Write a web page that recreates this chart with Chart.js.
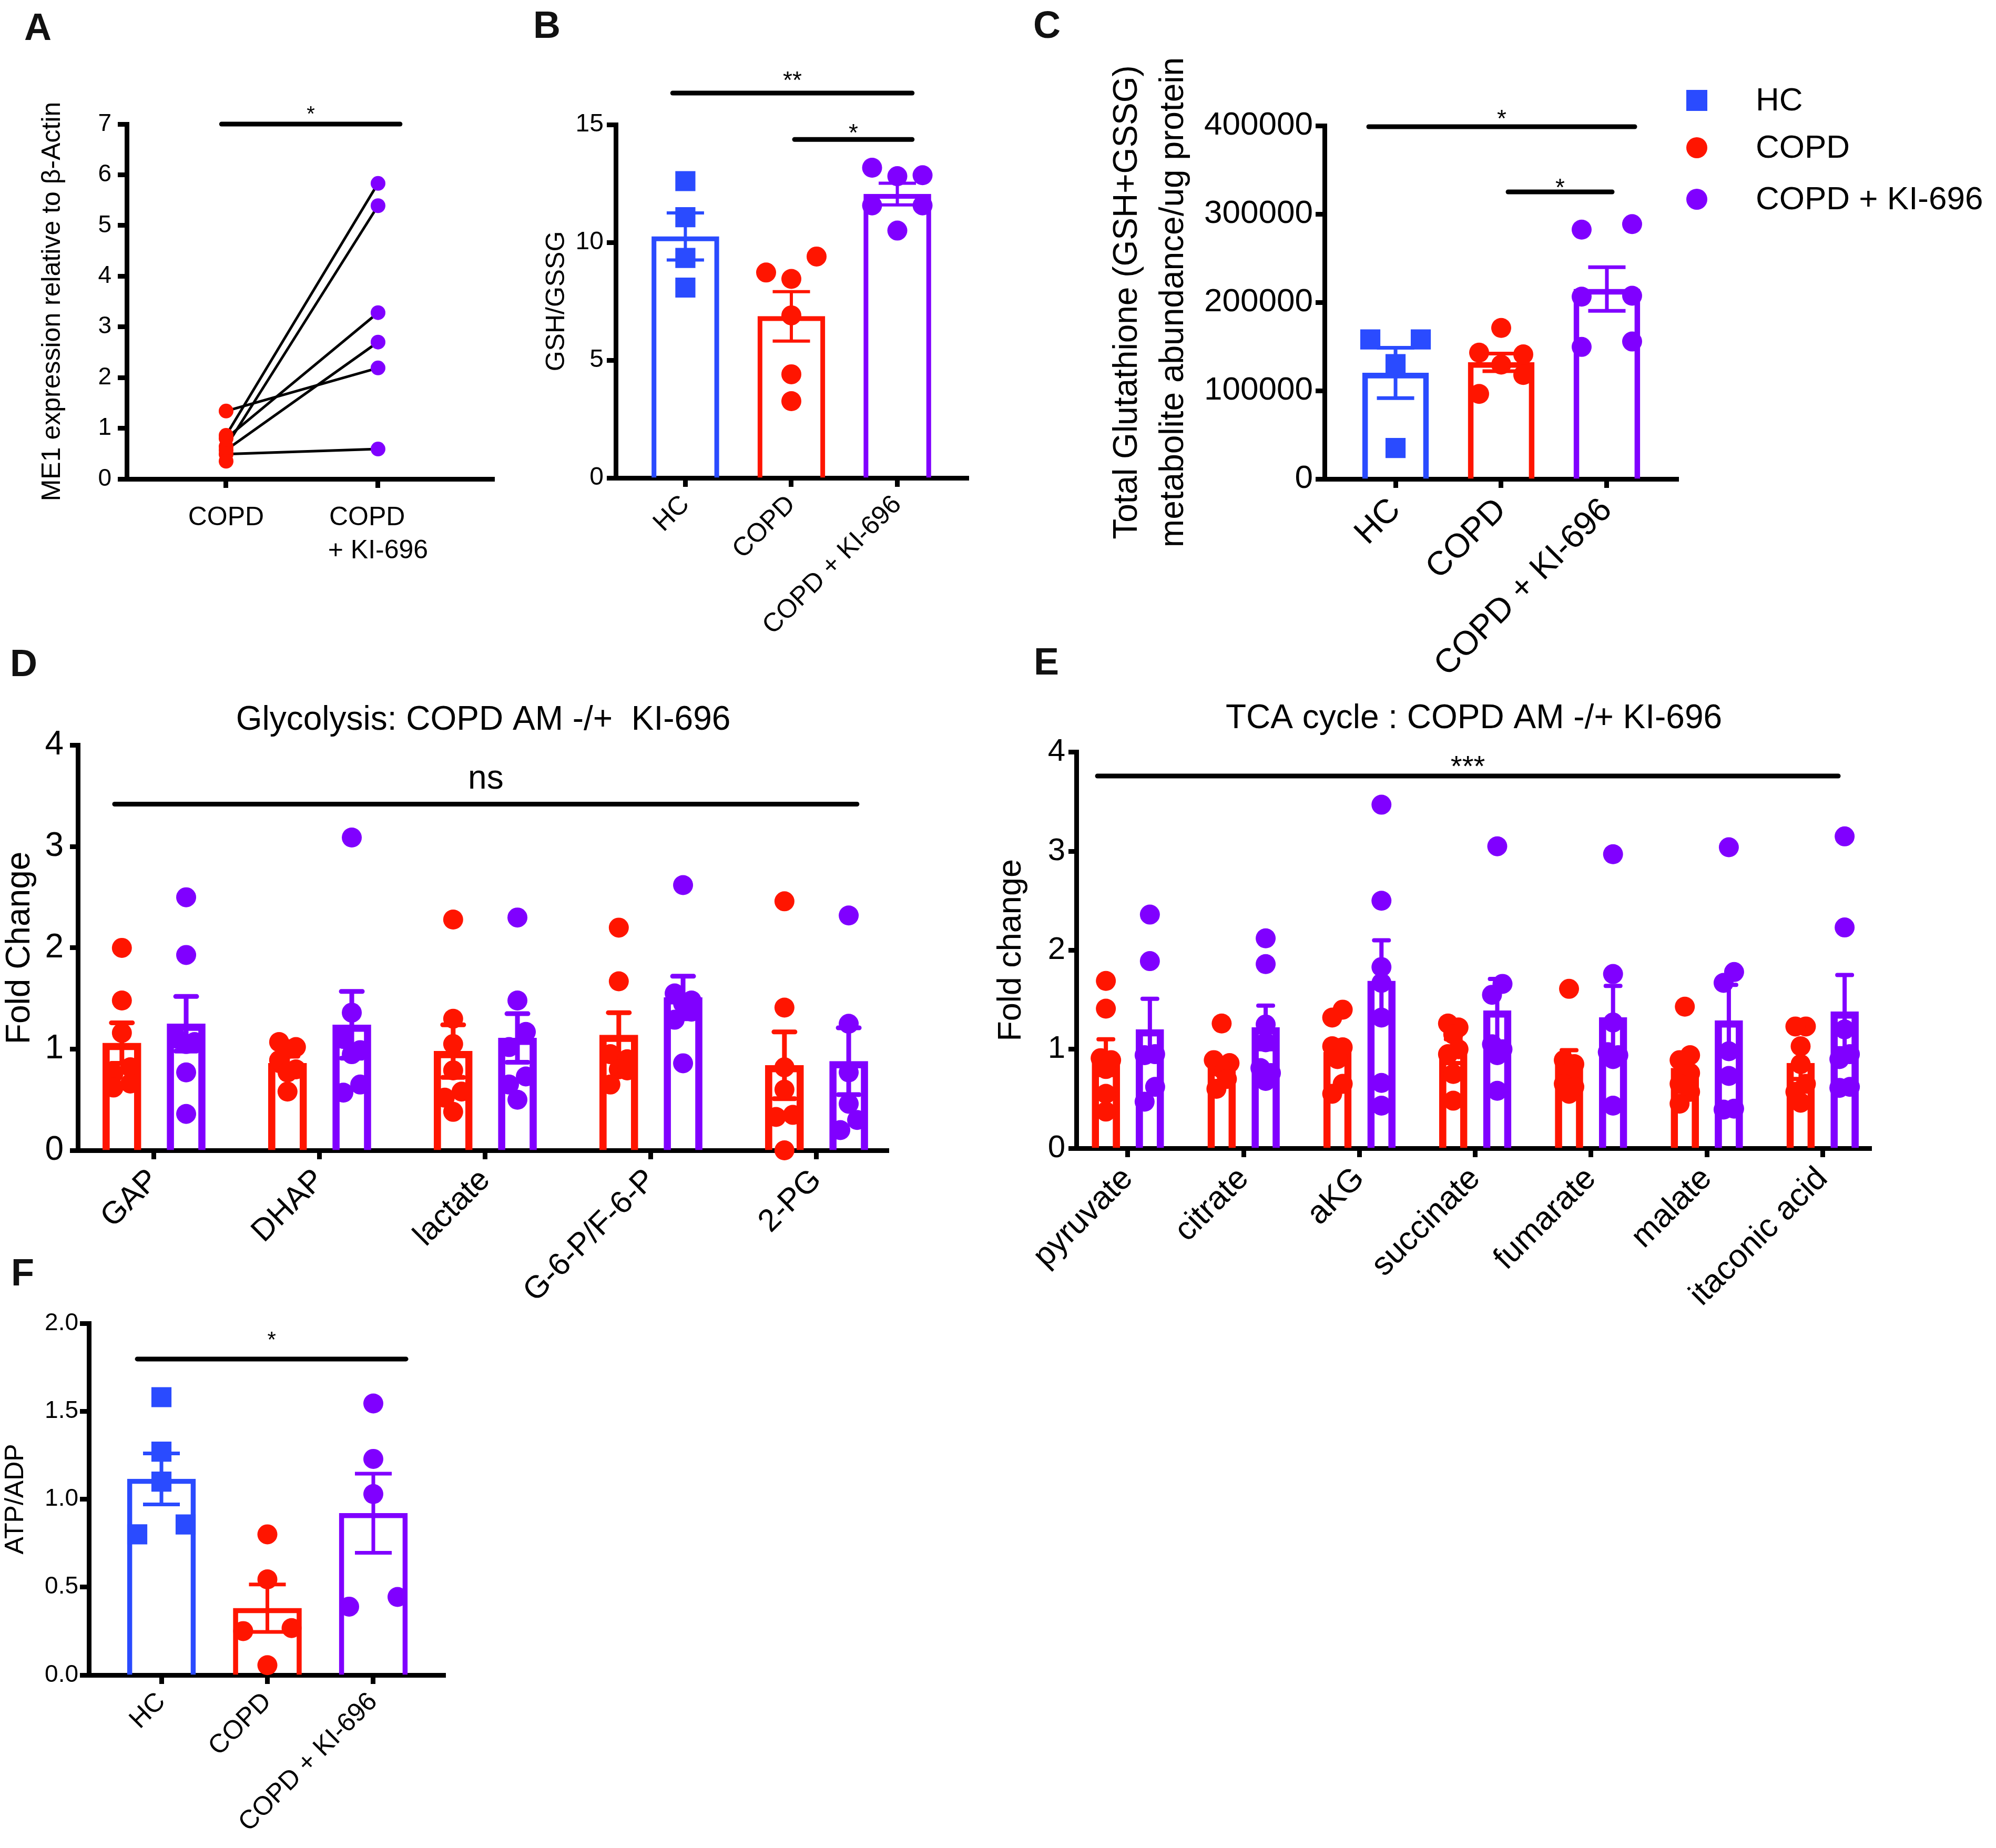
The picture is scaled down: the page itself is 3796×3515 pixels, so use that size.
<!DOCTYPE html>
<html>
<head>
<meta charset="utf-8">
<script src="https://cdn.jsdelivr.net/npm/chart.js@4.4.1/dist/chart.umd.min.js"></script>
<style>
  html, body { margin: 0; padding: 0; background: #fff; }
  #page { position: relative; width: 3796px; height: 3515px; overflow: hidden; background: #fff; }
  canvas { position: absolute; }
  .lbl { position: absolute; font: bold 72px 'Liberation Sans', Arial, sans-serif; line-height: 1; color: #111; }
</style>
</head>
<body>
<div id="page">
  <canvas id="chartA" width="900" height="950" style="left:70px;top:150px"></canvas>
  <canvas id="chartB" width="840" height="1150" style="left:1029px;top:100px"></canvas>
  <canvas id="chartC" width="1696" height="1230" style="left:2100px;top:100px"></canvas>
  <canvas id="chartD" width="1760" height="1188" style="left:0px;top:1332px"></canvas>
  <canvas id="chartE" width="1910" height="1201" style="left:1886px;top:1329px"></canvas>
  <canvas id="chartF" width="900" height="1115" style="left:0px;top:2400px"></canvas>
  <div class="lbl" style="left:46px;top:15px">A</div>
  <div class="lbl" style="left:1014px;top:11px">B</div>
  <div class="lbl" style="left:1965px;top:11px">C</div>
  <div class="lbl" style="left:19px;top:1225px">D</div>
  <div class="lbl" style="left:1966px;top:1222px">E</div>
  <div class="lbl" style="left:21px;top:2384px">F</div>
</div>
<script>
const BLUE = '#2A4BFF', RED = '#FF1500', PURPLE = '#8000FF';
const FONT = "'Liberation Sans', Arial, Helvetica, sans-serif";

// A - ME1 expression, paired
const aCats = ['COPD', ['COPD   ', '+ KI-696']];
const aTicks = [0, 1, 2, 3, 4, 5, 6, 7];
const aCOPD = [1.34, 0.86, 0.80, 0.64, 0.57, 0.49, 0.35];
const aKI = [2.19, 5.83, 3.28, 5.39, 2.70, 0.59];

// B - GSH/GSSG
const groups = ['HC', 'COPD', 'COPD + KI-696'];
const bTicks = [0, 5, 10, 15];
const bHC = [12.6, 11.07, 9.34, 8.08];
const bCOPD = [9.40, 8.72, 8.45, 6.90, 4.40, 3.26];
const bKI = [13.17, 12.85, 12.81, 11.57, 11.57, 10.5];
const bMean = [10.25, 6.86, 12.05];
const bSem = [1.0, 1.05, 0.46];

// C - total glutathione
const cTicks = [0, 100000, 200000, 300000, 400000];
const cHC = [158000, 158000, 130000, 35000];
const cCOPD = [171000, 143000, 141000, 129500, 117700, 96300];
const cKI = [288500, 282300, 207400, 206400, 155600, 149500];
const cMean = [120000, 132000, 215000];
const cSem = [28500, 10000, 24700];

// D - glycolysis
const dCats = ['GAP', 'DHAP', 'lactate', 'G-6-P/F-6-P', '2-PG'];
const dTicks = [0, 1, 2, 3, 4];
const dRedPts = [
  [2.00, 1.48, 1.16, 0.82, 0.76, 0.66, 0.62],
  [1.07, 1.02, 1.00, 0.89, 0.80, 0.77, 0.58],
  [2.28, 1.30, 1.05, 0.79, 0.58, 0.52, 0.38],
  [2.20, 1.67, 0.95, 0.90, 0.80, 0.79, 0.65],
  [2.46, 1.41, 0.82, 0.60, 0.35, 0.33, 0.00]
];
const dKIPts = [
  [2.50, 1.93, 1.10, 1.07, 1.05, 0.77, 0.36],
  [3.09, 1.36, 1.10, 0.99, 0.95, 0.65, 0.57],
  [2.30, 1.48, 1.17, 1.02, 0.73, 0.65, 0.50],
  [2.62, 1.55, 1.48, 1.45, 1.37, 1.29, 0.86],
  [2.32, 1.25, 0.77, 0.46, 0.30, 0.20]
];
const dRedMean = [1.06, 0.86, 0.98, 1.14, 0.84];
const dRedSem = [0.20, 0.07, 0.26, 0.22, 0.33];
const dKIMean = [1.25, 1.24, 1.11, 1.51, 0.88];
const dKISem = [0.27, 0.33, 0.24, 0.21, 0.33];

// E - TCA cycle
const eCats = ['pyruvate', 'citrate', 'aKG', 'succinate', 'fumarate', 'malate', 'itaconic acid'];
const eTicks = [0, 1, 2, 3, 4];
const eRedPts = [
  [1.69, 1.41, 0.91, 0.89, 0.80, 0.55, 0.37],
  [1.26, 0.89, 0.86, 0.82, 0.78, 0.70, 0.60],
  [1.40, 1.32, 1.03, 1.02, 0.90, 0.65, 0.55],
  [1.26, 1.22, 1.15, 1.00, 0.95, 0.75, 0.48],
  [1.61, 0.89, 0.85, 0.76, 0.65, 0.62, 0.55],
  [1.43, 0.94, 0.89, 0.76, 0.65, 0.57, 0.45],
  [1.23, 1.23, 1.03, 0.85, 0.65, 0.57, 0.46]
];
const eKIPts = [
  [2.36, 1.89, 0.95, 0.94, 0.62, 0.47],
  [2.12, 1.86, 1.25, 1.07, 0.81, 0.76, 0.68],
  [3.47, 2.50, 1.83, 1.67, 1.32, 0.66, 0.43],
  [3.05, 1.66, 1.55, 1.05, 1.00, 0.94, 0.58],
  [2.97, 1.76, 1.27, 0.97, 0.94, 0.90, 0.43],
  [3.04, 1.78, 1.67, 0.98, 0.73, 0.40, 0.39],
  [3.15, 2.23, 1.20, 0.95, 0.90, 0.62, 0.61]
];
const eRedMean = [0.92, 0.85, 0.97, 0.98, 0.85, 0.81, 0.86];
const eRedSem = [0.18, 0.06, 0.12, 0.12, 0.14, 0.12, 0.16];
const eKIMean = [1.20, 1.22, 1.69, 1.39, 1.32, 1.29, 1.38];
const eKISem = [0.31, 0.22, 0.41, 0.32, 0.32, 0.36, 0.37];

// F - ATP/ADP
const fTicks = [0, 0.5, 1, 1.5, 2];
const fTickLabels = ['0.0', '0.5', '1.0', '1.5', '2.0'];
const fHC = [1.58, 1.27, 1.10, 0.856, 0.80];
const fCOPD = [0.80, 0.544, 0.267, 0.25, 0.056];
const fKI = [1.544, 1.229, 1.029, 0.444, 0.389];
const fMean = [1.115, 0.38, 0.92];
const fSem = [0.145, 0.135, 0.225];

Chart.defaults.font.family = FONT;
Chart.defaults.color = '#000';
Chart.defaults.plugins.legend.display = false;
Chart.defaults.plugins.tooltip.enabled = false;

// significance bars and legend, per canvas
const extrasCfg = {
  chartA: { sig: [{ x1: -0.03, x2: 1.145, y: 7.0, text: '*', size: 40, dy: 6 }] },
  chartB: { sig: [
    { x1: -0.12, x2: 2.14, y: 16.34, text: '**', size: 46, dy: 9 },
    { x1: 1.03, x2: 2.14, y: 14.37, text: '*', size: 46, dy: -3 }
  ] },
  chartC: {
    sig: [
      { x1: -0.254, x2: 2.264, y: 398800, text: '*', size: 46, dy: 0 },
      { x1: 1.065, x2: 2.05, y: 325000, text: '*', size: 46, dy: -7 }
    ],
    legend: { dx: 35, tx: 147, rows: [-48, 42, 140], size: 62 }
  },
  chartD: { sig: [{ x1: -0.238, x2: 4.244, y: 3.42, text: 'ns', size: 64, dy: 29 }] },
  chartE: { sig: [{ x1: -0.263, x2: 6.135, y: 3.76, text: '***', size: 56, dy: 0 }] },
  chartF: { sig: [{ x1: -0.228, x2: 2.308, y: 1.797, text: '*', size: 42, dy: 23 }] }
};

const extras = {
  id: 'extras',
  // spread overlapping points sideways, like a column scatter
  afterDatasetsUpdate(chart) {
    chart.data.datasets.forEach((ds, i) => {
      if (!ds.swarm) return;
      const els = chart.getDatasetMeta(i).data;
      const byX = {};
      ds.data.forEach((p, j) => { (byX[p.x] = byX[p.x] || []).push(els[j]); });
      Object.values(byX).forEach(g => {
        g.sort((a, b) => a.y - b.y);
        let k = 0;
        while (k < g.length) {
          let n = 1;
          while (k + n < g.length && g[k + n].y - g[k].y < ds.swarm.row) n++;
          const d = ds.swarm.d;
          let offs;
          if (n === 1) offs = [0];
          else if (n === 2) offs = [d, -d];
          else {
            const slots = [];
            for (let j = 0; j < n; j++) slots.push((j - (n - 1) / 2) * d);
            const order = [];
            let lo = 0, hi = n - 1;
            while (lo <= hi) { order.push(lo++); if (lo <= hi) order.push(hi--); }
            offs = order.map(s => slots[s]);
          }
          for (let j = 0; j < n; j++) g[k + j].x += offs[j];
          k += n;
        }
      });
    });
  },
  afterDatasetDraw(chart, args) {
    const ds = chart.data.datasets[args.index];
    if (!ds.errors) return;
    const ctx = chart.ctx, y = chart.scales.y;
    ctx.save();
    args.meta.data.forEach((el, j) => {
      const m = ds.data[j].y, e = ds.errors[j];
      const top = y.getPixelForValue(m + e), bot = y.getPixelForValue(m - e);
      const half = ds.capWidth / 2;
      ctx.strokeStyle = Array.isArray(ds.borderColor) ? ds.borderColor[j] : ds.borderColor;
      ctx.lineWidth = ds.errWidth;
      ctx.lineCap = ds.errCap || 'butt';
      ctx.beginPath();
      ctx.moveTo(el.x, top); ctx.lineTo(el.x, bot);
      ctx.moveTo(el.x - half, top); ctx.lineTo(el.x + half, top);
      ctx.moveTo(el.x - half, bot); ctx.lineTo(el.x + half, bot);
      ctx.stroke();
    });
    ctx.restore();
  },
  afterDraw(chart) {
    const cfg = extrasCfg[chart.canvas.id];
    if (!cfg) return;
    const ctx = chart.ctx, xs = chart.scales.x, ys = chart.scales.y;
    ctx.save();
    (cfg.sig || []).forEach(s => {
      const x1 = xs.getPixelForValue(s.x1), x2 = xs.getPixelForValue(s.x2), yy = ys.getPixelForValue(s.y);
      ctx.strokeStyle = '#000';
      ctx.lineWidth = 9;
      ctx.lineCap = 'round';
      ctx.beginPath(); ctx.moveTo(x1, yy); ctx.lineTo(x2, yy); ctx.stroke();
      ctx.fillStyle = '#000';
      ctx.font = s.size + 'px ' + FONT;
      ctx.textAlign = 'center';
      ctx.textBaseline = 'alphabetic';
      ctx.fillText(s.text, (x1 + x2) / 2, yy - s.dy);
    });
    if (cfg.legend) {
      const L = cfg.legend, area = chart.chartArea;
      const items = chart.data.datasets.filter(ds => ds.legendLabel);
      items.forEach((ds, r) => {
        const cx = area.right + L.dx, cy = area.top + L.rows[r];
        ctx.fillStyle = ds.pointBackgroundColor;
        if (ds.pointStyle === 'rect') ctx.fillRect(cx - 20, cy - 20, 40, 40);
        else { ctx.beginPath(); ctx.arc(cx, cy, 20, 0, Math.PI * 2); ctx.fill(); }
        ctx.fillStyle = '#000';
        ctx.font = L.size + 'px ' + FONT;
        ctx.textAlign = 'left';
        ctx.textBaseline = 'middle';
        ctx.fillText(ds.legendLabel, area.left + (area.right - area.left) + L.tx, cy + 2);
      });
    }
    ctx.restore();
  }
};
Chart.register(extras);

function xAxis(o) {
  return {
    type: 'linear', min: o.min, max: o.max, offset: false,
    afterBuildTicks: s => { s.ticks = o.cats.map((c, i) => ({ value: i })); },
    afterFit: s => { s.height = o.h; },
    ticks: {
      autoSkip: false, minRotation: o.rot || 0, maxRotation: o.rot || 0, padding: o.pad,
      font: { size: o.size, lineHeight: 1.25 }, color: '#000',
      callback: (v, i) => o.cats[i]
    },
    grid: { drawOnChartArea: false, drawTicks: true, tickLength: 17, tickWidth: 9, tickColor: '#000', offset: false },
    border: { display: true, width: 9, color: '#000' }
  };
}

function yAxis(o) {
  return {
    type: 'linear', min: o.ticks[0], max: o.ticks[o.ticks.length - 1],
    afterBuildTicks: s => { s.ticks = o.ticks.map(v => ({ value: v })); },
    afterFit: s => { s.width = o.w; },
    ticks: {
      padding: o.pad, font: { size: o.size }, color: '#000',
      callback: (v, i) => (o.labels ? o.labels[i] : String(v))
    },
    grid: { drawOnChartArea: false, drawTicks: true, tickLength: o.tick || 17, tickWidth: 9, tickColor: '#000' },
    border: { display: true, width: 9, color: '#000' },
    title: { display: true, text: o.title, color: '#000', padding: 0, font: { size: o.tsize, lineHeight: o.tlh || 1.2 } }
  };
}

function pts(values, x) { return values.map(v => ({ x: x, y: v })); }

function groupPoints(vals, label, style, color, radius, swarm) {
  return {
    type: 'scatter', data: vals, pointStyle: style, pointRadius: radius, pointBackgroundColor: color,
    pointBorderWidth: 0, order: 1, clip: false, swarm: swarm, legendLabel: label
  };
}

function barSet(means, sems, xs, color, o) {
  return {
    type: 'bar', data: means.map((m, i) => ({ x: xs(i), y: m })), errors: sems,
    grouped: false, barThickness: o.bw, borderWidth: o.border, borderColor: color,
    backgroundColor: 'rgba(0,0,0,0)', borderSkipped: 'start', order: 3, clip: false,
    errWidth: o.ew, capWidth: o.cap, errCap: o.errCap
  };
}

// ---------- A ----------
new Chart(document.getElementById('chartA'), {
  type: 'scatter',
  data: {
    datasets: [
      ...aKI.map((v, i) => ({
        type: 'scatter', data: [{ x: 0, y: aCOPD[i] }, { x: 1, y: v }], showLine: true,
        borderColor: '#000', borderWidth: 5, pointRadius: 0, order: 2, clip: false
      })),
      { type: 'scatter', data: pts(aCOPD, 0), pointRadius: 14, pointBackgroundColor: RED, pointBorderWidth: 0, order: 1, clip: false },
      { type: 'scatter', data: pts(aKI, 1), pointRadius: 14, pointBackgroundColor: PURPLE, pointBorderWidth: 0, order: 1, clip: false }
    ]
  },
  options: {
    responsive: false, animation: false,
    layout: { padding: { top: 86, right: 30, left: 0, bottom: 0 } },
    scales: {
      x: xAxis({ min: -0.654, max: 1.765, cats: aCats, h: 189, pad: 26, size: 50 }),
      y: yAxis({ ticks: aTicks, w: 171, pad: 12, size: 46, title: 'ME1 expression relative to \u03B2-Actin', tsize: 50 })
    }
  }
});

// ---------- B ----------
new Chart(document.getElementById('chartB'), {
  type: 'scatter',
  data: {
    datasets: [
      barSet(bMean, bSem, i => i, [BLUE, RED, PURPLE], { bw: 128, border: 8.5, ew: 6, cap: 71 }),
      groupPoints(pts(bHC, 0), 'HC', 'rect', BLUE, 27, { d: 48, row: 38 }),
      groupPoints(pts(bCOPD, 1), 'COPD', 'circle', RED, 19, { d: 48, row: 38 }),
      groupPoints(pts(bKI, 2), 'COPD + KI-696', 'circle', PURPLE, 19, { d: 48, row: 38 })
    ]
  },
  options: {
    responsive: false, animation: false,
    layout: { padding: { top: 137, right: 24, left: 0, bottom: 0 } },
    scales: {
      x: xAxis({ min: -0.657, max: 2.672, cats: groups, h: 341, pad: 4, size: 50, rot: 45 }),
      y: yAxis({ ticks: bTicks, w: 142, pad: 6, size: 48, title: 'GSH/GSSG', tsize: 50 })
    }
  }
});

// ---------- C ----------
new Chart(document.getElementById('chartC'), {
  type: 'scatter',
  data: {
    datasets: [
      barSet(cMean, cSem, i => i, [BLUE, RED, PURPLE], { bw: 126, border: 10, ew: 7, cap: 71 }),
      groupPoints(pts(cHC, 0), 'HC', 'rect', BLUE, 27, { d: 48, row: 38 }),
      groupPoints(pts(cCOPD, 1), 'COPD', 'circle', RED, 19, { d: 42, row: 38 }),
      groupPoints(pts(cKI, 2), 'COPD + KI-696', 'circle', PURPLE, 19, { d: 48, row: 38 })
    ]
  },
  options: {
    responsive: false, animation: false,
    layout: { padding: { top: 139, right: 604, left: 0, bottom: 0 } },
    scales: {
      x: xAxis({ min: -0.672, max: 2.677, cats: groups, h: 419, pad: 4, size: 64, rot: 45 }),
      y: yAxis({
        ticks: cTicks, w: 419, pad: 5, size: 62, tsize: 64, tlh: 1.375,
        title: ['Total Glutathione (GSH+GSSG)', 'metabolite abundance/ug protein']
      })
    }
  }
});

// ---------- D ----------
const dOff = 0.194;
new Chart(document.getElementById('chartD'), {
  type: 'scatter',
  data: {
    datasets: [
      barSet(dRedMean, dRedSem, i => i - dOff, RED, { bw: 73, border: 13, ew: 9, cap: 40, errCap: 'round' }),
      barSet(dKIMean, dKISem, i => i + dOff, PURPLE, { bw: 73, border: 13, ew: 9, cap: 40, errCap: 'round' }),
      groupPoints(dRedPts.flatMap((a, i) => pts(a, i - dOff)), null, 'circle', RED, 19, { d: 16, row: 30 }),
      groupPoints(dKIPts.flatMap((a, i) => pts(a, i + dOff)), null, 'circle', PURPLE, 19, { d: 16, row: 30 })
    ]
  },
  options: {
    responsive: false, animation: false,
    layout: { padding: { top: 0, right: 70, left: 0, bottom: 0 } },
    plugins: {
      title: { display: true, text: 'Glycolysis: COPD AM -/+  KI-696', fullSize: false, color: '#000',
               font: { size: 64, weight: 'normal', lineHeight: 1.2 }, padding: { top: 0, bottom: 9 } }
    },
    scales: {
      x: xAxis({ min: -0.460, max: 4.435, cats: dCats, h: 332, pad: 4, size: 60, rot: 45 }),
      y: yAxis({ ticks: dTicks, w: 148, pad: 12, tick: 15, size: 64, title: 'Fold Change', tsize: 64 })
    }
  }
});

// ---------- E ----------
const eOff = 0.19;
new Chart(document.getElementById('chartE'), {
  type: 'scatter',
  data: {
    datasets: [
      barSet(eRedMean, eRedSem, i => i - eOff, RED, { bw: 53, border: 13, ew: 8, cap: 28, errCap: 'round' }),
      barSet(eKIMean, eKISem, i => i + eOff, PURPLE, { bw: 53, border: 13, ew: 8, cap: 28, errCap: 'round' }),
      groupPoints(eRedPts.flatMap((a, i) => pts(a, i - eOff)), null, 'circle', RED, 19, { d: 10, row: 30 }),
      groupPoints(eKIPts.flatMap((a, i) => pts(a, i + eOff)), null, 'circle', PURPLE, 19, { d: 10, row: 30 })
    ]
  },
  options: {
    responsive: false, animation: false,
    layout: { padding: { top: 0, right: 237, left: 0, bottom: 0 } },
    plugins: {
      title: { display: true, text: 'TCA cycle : COPD AM -/+ KI-696', fullSize: false, color: '#000',
               font: { size: 64, weight: 'normal', lineHeight: 1.2 }, padding: { top: 0, bottom: 25 } }
    },
    scales: {
      x: xAxis({ min: -0.445, max: 6.421, cats: eCats, h: 346, pad: 4, size: 62, rot: 45 }),
      y: yAxis({ ticks: eTicks, w: 161, pad: 6, tick: 15, size: 60, title: 'Fold change', tsize: 63 })
    }
  }
});

// ---------- F ----------
new Chart(document.getElementById('chartF'), {
  type: 'scatter',
  data: {
    datasets: [
      barSet(fMean, fSem, i => i, [BLUE, RED, PURPLE], { bw: 130, border: 9, ew: 7, cap: 70 }),
      groupPoints(pts(fHC, 0), 'HC', 'rect', BLUE, 27, { d: 46, row: 38 }),
      groupPoints(pts(fCOPD, 1), 'COPD', 'circle', RED, 19, { d: 46, row: 38 }),
      groupPoints(pts(fKI, 2), 'COPD + KI-696', 'circle', PURPLE, 19, { d: 46, row: 38 })
    ]
  },
  options: {
    responsive: false, animation: false,
    layout: { padding: { top: 117, right: 53, left: 0, bottom: 0 } },
    scales: {
      x: xAxis({ min: -0.685, max: 2.680, cats: groups, h: 329, pad: 4, size: 50, rot: 45 }),
      y: yAxis({ ticks: fTicks, labels: fTickLabels, w: 169, pad: 3, size: 46, title: 'ATP/ADP', tsize: 50 })
    }
  }
});
</script>
</body>
</html>
